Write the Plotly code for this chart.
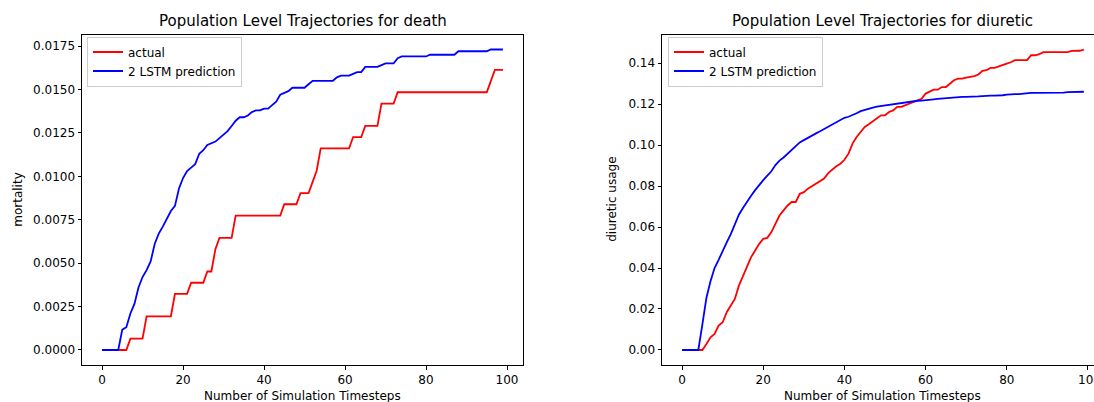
import plotly.graph_objects as go

W, H = 1094, 402

timesteps = list(range(100))

death_actual = (
    [0.0] * 7 + [0.00065] * 4 + [0.00194] * 7 + [0.00323] * 4 + [0.00387] * 4
    + [0.00452] * 2 + [0.00581] + [0.00645] * 4 + [0.00774] * 12 + [0.00839] * 4
    + [0.00903] * 3 + [0.00968] + [0.01032] + [0.01161] * 8 + [0.01226] * 3
    + [0.0129] * 4 + [0.01419] * 4 + [0.01484] * 23 + [0.01548] + [0.01613] * 3
)

death_pred = [
    0.0, 0.0, 0.0, 0.0, 0.0, 0.00117, 0.00131, 0.0021, 0.00265, 0.0036,
    0.0042, 0.0046, 0.0051, 0.0061, 0.0067, 0.0071, 0.0076, 0.0080, 0.0083, 0.0093,
    0.0099, 0.0103, 0.0105, 0.0107, 0.0113, 0.0115, 0.0118, 0.0119, 0.0120, 0.0122,
    0.0124, 0.0126, 0.0129, 0.0132, 0.0134, 0.0134, 0.0135, 0.0137, 0.0138, 0.0138,
    0.0139, 0.0139, 0.0141, 0.0143, 0.0147, 0.0148, 0.0149, 0.0151, 0.0151, 0.0151,
    0.0151, 0.0153, 0.0155, 0.0155, 0.0155, 0.0155, 0.0155, 0.0155, 0.0157, 0.0158,
    0.0158, 0.0158, 0.0159, 0.0160, 0.0160, 0.0163, 0.0163, 0.0163, 0.0163, 0.0164,
    0.0165, 0.0165, 0.0165, 0.0168, 0.0169, 0.0169, 0.0169, 0.0169, 0.0169, 0.0169,
    0.0169, 0.0170, 0.0170, 0.0170, 0.0170, 0.0170, 0.0170, 0.0170, 0.0172, 0.0172,
    0.0172, 0.0172, 0.0172, 0.0172, 0.0172, 0.0172, 0.0173, 0.0173, 0.0173, 0.0173,
]

diur_actual = [
    0.0, 0.0, 0.0, 0.0, 0.0, 0.0, 0.0029, 0.0062, 0.0078, 0.0119,
    0.0135, 0.0184, 0.0217, 0.0249, 0.0314, 0.0363, 0.0404, 0.0453, 0.0485, 0.0518,
    0.0542, 0.0547, 0.0575, 0.0616, 0.0656, 0.0681, 0.0705, 0.0722, 0.0722, 0.0762,
    0.0770, 0.0787, 0.0800, 0.0811, 0.0824, 0.0836, 0.0863, 0.0880, 0.0896, 0.0909,
    0.0928, 0.0958, 0.1007, 0.1039, 0.1064, 0.1088, 0.1101, 0.1117, 0.1129, 0.1145,
    0.1145, 0.1161, 0.1169, 0.1186, 0.1186, 0.1194, 0.1202, 0.1213, 0.1218, 0.1226,
    0.1251, 0.1259, 0.1270, 0.1270, 0.1283, 0.1283, 0.1300, 0.1316, 0.1324, 0.1324,
    0.1329, 0.1332, 0.1336, 0.1344, 0.1362, 0.1365, 0.1376, 0.1376, 0.1384, 0.1391,
    0.1397, 0.1404, 0.1414, 0.1414, 0.1414, 0.1414, 0.1438, 0.1438, 0.1443, 0.1453,
    0.1453, 0.1453, 0.1453, 0.1453, 0.1453, 0.1453, 0.1459, 0.1459, 0.1460, 0.1466,
]

diur_pred = [
    0.0, 0.0, 0.0, 0.0, 0.0, 0.0125, 0.0255, 0.0335, 0.0400, 0.0440,
    0.0485, 0.0525, 0.0565, 0.0615, 0.0660, 0.0693, 0.0725, 0.0753, 0.0780, 0.0806,
    0.0829, 0.0851, 0.0872, 0.0902, 0.0924, 0.0939, 0.0958, 0.0980, 0.0998, 0.1013,
    0.1024, 0.1036, 0.1047, 0.1057, 0.1067, 0.1078, 0.1090, 0.1101, 0.1112, 0.1123,
    0.1133, 0.1138, 0.1145, 0.1155, 0.1165, 0.1172, 0.1178, 0.1183, 0.1187, 0.1190,
    0.1193, 0.1197, 0.1200, 0.1201, 0.1204, 0.1207, 0.1211, 0.1214, 0.1216, 0.1217,
    0.1218, 0.1220, 0.1223, 0.1225, 0.1227, 0.1228, 0.1231, 0.1232, 0.1234, 0.1235,
    0.1235, 0.1235, 0.1235, 0.1237, 0.1239, 0.1241, 0.1241, 0.1241, 0.1241, 0.1243,
    0.1246, 0.1248, 0.1248, 0.1248, 0.1251, 0.1251, 0.1254, 0.1254, 0.1254, 0.1254,
    0.1256, 0.1256, 0.1256, 0.1256, 0.1256, 0.1258, 0.1258, 0.1258, 0.1260, 0.1260,
]

x_ticks = [0, 20, 40, 60, 80, 100]
death_ticks = [0.0, 0.0025, 0.005, 0.0075, 0.01, 0.0125, 0.015, 0.0175]
diur_ticks = [0.0, 0.02, 0.04, 0.06, 0.08, 0.10, 0.12, 0.14]

titles = ["Population Level Trajectories for death", "Population Level Trajectories for diuretic"]
ylabels = ["mortality", "diuretic usage"]
xlabel = "Number of Simulation Timesteps"
names = ["actual", "2 LSTM prediction"]

FONT = "DejaVu Sans"
RED, BLUE = "#ff0000", "#0000ff"
LW = 1.8

def px(v):
    return v / W

def py(v):
    return 1 - v / H

fig = go.Figure()
fig.add_trace(go.Scatter(x=timesteps, y=death_actual, name=names[0], mode="lines",
                         line=dict(color=RED, width=LW), xaxis="x", yaxis="y", legend="legend"))
fig.add_trace(go.Scatter(x=timesteps, y=death_pred, name=names[1], mode="lines",
                         line=dict(color=BLUE, width=LW), xaxis="x", yaxis="y", legend="legend"))
fig.add_trace(go.Scatter(x=timesteps, y=diur_actual, name=names[0], mode="lines",
                         line=dict(color=RED, width=LW), xaxis="x2", yaxis="y2", legend="legend2"))
fig.add_trace(go.Scatter(x=timesteps, y=diur_pred, name=names[1], mode="lines",
                         line=dict(color=BLUE, width=LW), xaxis="x2", yaxis="y2", legend="legend2"))

ax_top, ax_bot = 34.5, 365
L1, R1 = 82, 523
L2 = 662

common = dict(showline=True, linecolor="#000000", linewidth=1, ticks="outside", ticklen=3.5,
              tickwidth=1, tickcolor="#000000", showgrid=False, zeroline=False,
              tickfont=dict(family=FONT, size=12, color="#000000"))

ydom = [py(ax_bot), py(ax_top)]

d_max = max(death_pred)
r_max = max(diur_actual)

legend_style = dict(xanchor="left", yanchor="top",
                    bgcolor="rgba(255,255,255,0.8)", bordercolor="#cccccc", borderwidth=1,
                    font=dict(family=FONT, size=12, color="#000000"))

fig.update_layout(
    width=W, height=H,
    margin=dict(l=0, r=0, t=0, b=0),
    paper_bgcolor="white", plot_bgcolor="white",
    font=dict(family=FONT, size=12, color="#000000"),
    xaxis=dict(domain=[px(L1), px(R1)], range=[-4.95, 103.95], tickvals=x_ticks,
               anchor="y", mirror=True, **common),
    yaxis=dict(domain=ydom, range=[-0.05 * d_max, 1.05 * d_max], tickvals=death_ticks,
               tickformat=".4f", anchor="x", mirror=True, **common),
    xaxis2=dict(domain=[px(L2), 1.0], range=[-4.95, 101.49], tickvals=x_ticks,
                anchor="y2", mirror=True, ticklabeloverflow="hide past div", **common),
    yaxis2=dict(domain=ydom, range=[-0.05 * r_max, 1.05 * r_max], tickvals=diur_ticks,
                tickformat=".2f", anchor="x2", mirror=False, **common),
    legend=dict(x=px(87), y=py(36.5), **legend_style),
    legend2=dict(x=px(668), y=py(36.5), **legend_style),
    showlegend=True,
)

ann = []
centers = [(L1 + R1) / 2, (L2 + L2 + (R1 - L1)) / 2]
ylab_x = [18, 612]
for i in range(2):
    ann.append(dict(text=titles[i], x=px(centers[i]), y=py(21.5), xref="paper", yref="paper",
                    xanchor="center", yanchor="middle", showarrow=False,
                    font=dict(family=FONT, size=15, color="#000000")))
    ann.append(dict(text=xlabel, x=px(centers[i]), y=py(395.5), xref="paper", yref="paper",
                    xanchor="center", yanchor="middle", showarrow=False,
                    font=dict(family=FONT, size=12, color="#000000")))
    ann.append(dict(text=ylabels[i], x=px(ylab_x[i]), y=py((ax_top + ax_bot) / 2),
                    xref="paper", yref="paper", xanchor="center", yanchor="middle",
                    textangle=-90, showarrow=False,
                    font=dict(family=FONT, size=12, color="#000000")))

# last x tick label of the right panel, cut off by the page edge as in the reference
ann.append(dict(text=str(x_ticks[-1]), x=x_ticks[-1], xref="x2", y=py(379.5), yref="paper",
                xanchor="left", yanchor="middle", xshift=-11.4, width=17, align="left",
                borderpad=0, showarrow=False,
                font=dict(family=FONT, size=12, color="#000000")))
fig.update_layout(annotations=ann)

fig.write_html("out.html")
